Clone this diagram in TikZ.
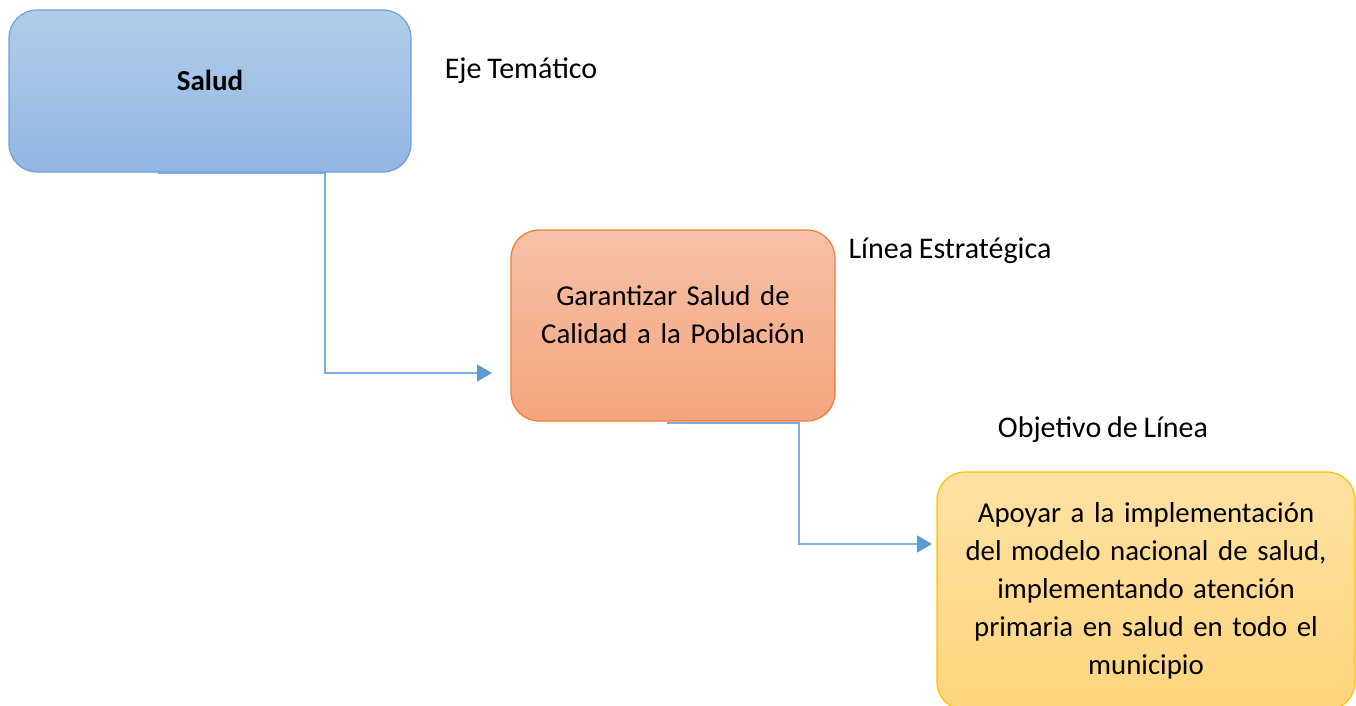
\documentclass[tikz,border=0pt]{standalone}
\usepackage{fontspec}
\setmainfont[WordSpace=0.85]{Carlito}
\usetikzlibrary{arrows.meta}
\definecolor{bluetop}{HTML}{B2CDEA}
\definecolor{bluebot}{HTML}{91B6E2}
\definecolor{blueline}{HTML}{6F9FD8}
\definecolor{orgtop}{HTML}{F7C1A7}
\definecolor{orgbot}{HTML}{F4A47E}
\definecolor{orgline}{HTML}{ED7D31}
\definecolor{yeltop}{HTML}{FFE1A3}
\definecolor{yelbot}{HTML}{FFD57D}
\definecolor{yelline}{HTML}{FFC000}
\definecolor{connc}{HTML}{7EADE2}
\definecolor{arrc}{HTML}{5B9BD5}
\tikzset{
  box/.style={draw, line width=1.2pt, rounded corners=28pt, inner sep=0pt},
  boxtext/.style={align=center, font=\fontsize{28.8}{38}\selectfont, text=black},
  lbl/.style={font=\fontsize{30}{36}\selectfont, text=black, inner sep=0pt},
  conn/.style={draw=connc, line width=1.6pt, -{Triangle[length=15pt,width=17pt,color=arrc]}},
}
\begin{document}
\begin{tikzpicture}[x=1pt,y=-1pt]
\useasboundingbox (0,0) rectangle (1356,706);
\clip (0,0) rectangle (1356,706);
% boxes
\node[box, draw=blueline, top color=bluetop, bottom color=bluebot, minimum width=402pt, minimum height=162pt] (salud) at (210,91) {};
\node[boxtext, font=\fontsize{29}{38}\selectfont\bfseries] (saludt) at (210,80) {Salud};
\node[box, draw=orgline, top color=orgtop, bottom color=orgbot, minimum width=324pt, minimum height=191pt] (lin) at (673,325.5) {};
\node[boxtext, text width=300pt] (lint) at (673,315) {Garantizar Salud de\\Calidad a la Población};
\node[box, draw=yelline, top color=yeltop, bottom color=yelbot, minimum width=418pt, minimum height=238pt, text width=390pt, boxtext] (obj) at (1146,591) {Apoyar a la implementación\\del modelo nacional de salud,\\implementando atención\\primaria en salud en todo el\\municipio};
% labels
\node[lbl] (l1) at (521,71) {Eje Temático};
\node[lbl] (l2) at (950,251) {Línea Estratégica};
\node[lbl] (l3) at (1103,430) {Objetivo de Línea};
% connectors
\coordinate (s1) at (158,173);
\coordinate (k1) at (325,173);
\coordinate (e1) at (492,373);
\coordinate (s2) at (667,423);
\coordinate (k2) at (799,423);
\coordinate (e2) at (932,544);
\draw[conn] (s1) -- (k1) |- (e1);
\draw[conn] (s2) -- (k2) |- (e2);
\end{tikzpicture}
\end{document}
